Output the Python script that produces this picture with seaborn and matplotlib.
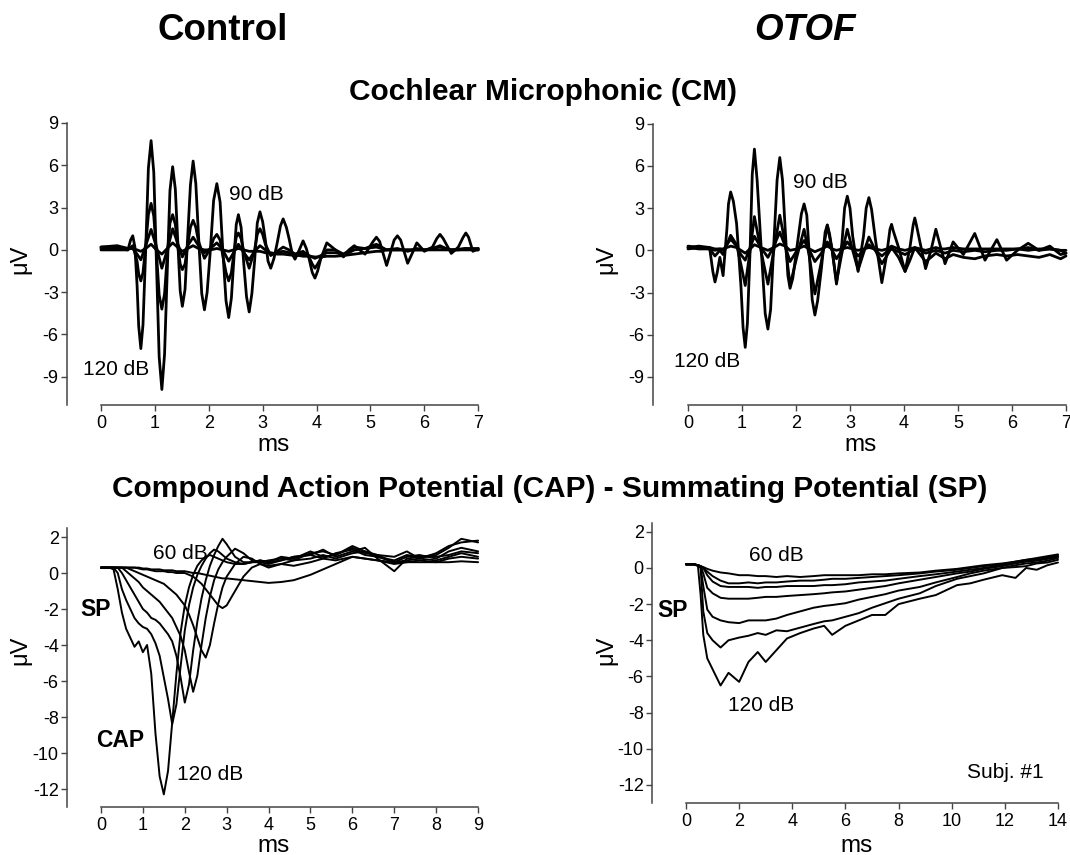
import numpy as np
import pandas as pd
import matplotlib
matplotlib.use("Agg")
import matplotlib.pyplot as plt
import seaborn as sns

# ---------------- data ----------------
levels_cm = ["120 dB", "110 dB", "100 dB", "90 dB"]
levels_cap = ["120 dB", "110 dB", "100 dB", "90 dB", "80 dB", "70 dB", "60 dB"]

# ---- Cochlear microphonic, control (time in ms, amplitude in uV) ----
t_cm_ctrl_120 = [0.0, 0.3, 0.5, 0.55, 0.59, 0.63, 0.67, 0.7, 0.74, 0.78,
                 0.83, 0.88, 0.93, 0.98, 1.03, 1.08, 1.13, 1.18, 1.23, 1.28,
                 1.33, 1.38, 1.42, 1.47, 1.51, 1.56, 1.61, 1.66, 1.71, 1.76,
                 1.81, 1.87, 1.92, 1.97, 2.03, 2.09, 2.15, 2.21, 2.26, 2.32,
                 2.37, 2.42, 2.46, 2.51, 2.55, 2.6, 2.65, 2.7, 2.75, 2.8,
                 2.85, 2.9, 2.95, 3.0, 3.05, 3.1, 3.15, 3.21, 3.27, 3.33,
                 3.38, 3.44, 3.49, 3.55, 3.6, 3.68, 3.75, 3.81, 3.86, 3.92,
                 3.97, 4.02, 4.08, 4.19, 4.35, 4.5, 4.6, 4.7, 4.9, 5.05,
                 5.11, 5.17, 5.3, 5.44, 5.5, 5.56, 5.69, 5.78, 5.86, 6.0,
                 6.15, 6.23, 6.29, 6.35, 6.5, 6.63, 6.72, 6.77, 6.82, 6.9,
                 7.0]
v_cm_ctrl_120 = [0.1, 0.1, 0.0, 0.7, 1.0, 0.2, -2.5, -5.4, -7.0, -5.3,
                 0.0, 5.8, 7.75, 5.5, -1.0, -7.6, -9.9, -7.4, -1.5, 4.2,
                 5.9, 4.3, 1.0, -2.9, -4.0, -2.8, 1.0, 4.6, 6.3, 4.7,
                 1.0, -3.1, -4.25, -3.0, 0.0, 3.5, 4.7, 3.4, 0.0, -3.6,
                 -4.8, -3.4, -1.0, 1.8, 2.5, 1.6, -1.0, -3.3, -4.4, -3.1,
                 -0.8, 1.9, 2.7, 2.0, 0.7, -0.8, -1.3, -0.6, 0.5, 1.7,
                 2.2, 1.6, 0.8, -0.3, -0.66, 0.0, 0.64, 0.1, -0.6, -1.6,
                 -2.0, -1.5, -0.6, 0.5, 0.0, -0.5, 0.0, 0.3, -0.3, 0.6,
                 0.9, 0.6, -1.1, 0.7, 1.0, 0.7, -0.95, -0.2, 0.5, -0.1,
                 0.2, 0.8, 1.1, 0.8, -0.25, 0.2, 0.9, 1.2, 0.9, -0.1,
                 0.1]
t_cm_ctrl_110 = [0.0, 0.3, 0.5, 0.59, 0.67, 0.7, 0.74, 0.78, 0.83, 0.88,
                 0.93, 0.98, 1.03, 1.08, 1.13, 1.18, 1.23, 1.28, 1.33, 1.38,
                 1.42, 1.47, 1.51, 1.56, 1.61, 1.66, 1.71, 1.76, 1.81, 1.92,
                 2.03, 2.09, 2.15, 2.21, 2.26, 2.32, 2.37, 2.42, 2.46, 2.51,
                 2.55, 2.6, 2.65, 2.75, 2.85, 2.9, 2.95, 3.0, 3.05, 3.15,
                 3.27, 3.38, 3.49, 3.6, 3.75, 3.86, 3.92, 3.97, 4.02, 4.08,
                 4.19, 4.35, 4.5, 4.7, 4.9, 5.11, 5.3, 5.5, 5.69, 5.86,
                 6.0, 6.29, 6.5, 6.77, 7.0]
v_cm_ctrl_110 = [0.0, 0.0, 0.0, 0.3, -0.8, -1.7, -2.2, -1.6, 0.3, 2.5,
                 3.3, 2.4, -0.2, -3.2, -4.2, -3.1, -0.4, 1.9, 2.5, 1.8,
                 0.4, -1.0, -1.4, -1.0, 0.4, 1.6, 2.1, 1.6, 0.6, -0.6,
                 0.1, 0.8, 1.1, 0.7, -0.4, -1.6, -2.2, -1.6, -0.4, 0.9,
                 1.2, 0.8, -0.1, -1.3, 0.0, 1.1, 1.5, 1.1, 0.4, -0.4,
                 -0.1, 0.2, 0.0, -0.3, -0.1, -0.5, -1.0, -1.3, -1.0, -0.6,
                 0.0, 0.0, -0.3, 0.2, 0.1, 0.4, 0.0, 0.1, -0.1, 0.1,
                 0.0, 0.2, 0.0, 0.1, 0.1]
t_cm_ctrl = [0.0, 0.3, 0.5, 0.59, 0.67, 0.74, 0.83, 0.93, 1.03, 1.13,
             1.23, 1.33, 1.42, 1.51, 1.61, 1.71, 1.81, 1.92, 2.03, 2.15,
             2.26, 2.37, 2.46, 2.55, 2.65, 2.75, 2.85, 2.95, 3.05, 3.15,
             3.27, 3.38, 3.49, 3.6, 3.68, 3.75, 3.86, 3.97, 4.08, 4.19,
             4.35, 4.5, 4.6, 4.7, 4.9, 5.11, 5.2, 5.3, 5.4, 5.5,
             5.6, 5.69, 5.78, 5.86, 6.0, 6.15, 6.29, 6.4, 6.5, 6.63,
             6.77, 6.9, 7.0]
v_cm_ctrl_100 = [0.2, 0.2, 0.1, 0.1, -0.3, -0.7, 0.3, 1.45, 0.2, -1.3,
                 0.0, 1.5, 0.5, -0.5, 0.3, 0.9, 0.3, -0.2, 0.1, 0.5,
                 0.0, -0.8, -0.2, 0.4, -0.2, -0.7, -0.1, 0.3, 0.0, -0.3,
                 -0.2, -0.1, -0.2, -0.3, -0.3, -0.3, -0.4, -0.6, -0.4, -0.2,
                 -0.2, -0.3, -0.2, 0.0, 0.1, 0.2, 0.1, 0.0, 0.0, 0.0,
                 0.0, 0.0, 0.0, 0.0, 0.0, 0.1, 0.3, 0.1, 0.0, 0.0,
                 0.1, 0.0, 0.0]
v_cm_ctrl_90 = [0.2, 0.3, 0.1, 0.1, 0.0, -0.1, 0.1, 0.4, 0.0, -0.3,
                0.1, 0.5, 0.2, -0.1, 0.1, 0.3, 0.1, 0.0, 0.0, 0.1,
                0.0, -0.1, 0.0, 0.1, 0.0, -0.1, -0.1, -0.1, -0.2, -0.2,
                -0.3, -0.3, -0.35, -0.4, -0.4, -0.45, -0.45, -0.5, -0.5, -0.45,
                -0.45, -0.4, -0.35, -0.3, -0.2, -0.1, -0.1, 0.0, 0.0, 0.0,
                0.0, 0.0, 0.0, 0.0, 0.0, 0.0, 0.0, 0.0, 0.0, 0.0,
                0.0, 0.0, 0.0]

# ---- Cochlear microphonic, OTOF ----
t_cm_otof_120 = [0.0, 0.2, 0.4, 0.46, 0.5, 0.54, 0.59, 0.65, 0.72, 0.75,
                 0.79, 0.84, 0.9, 0.98, 1.02, 1.06, 1.1, 1.15, 1.19, 1.23,
                 1.28, 1.35, 1.43, 1.48, 1.53, 1.59, 1.65, 1.7, 1.75, 1.8,
                 1.85, 1.89, 1.94, 2.02, 2.1, 2.15, 2.2, 2.25, 2.3, 2.35,
                 2.4, 2.47, 2.54, 2.58, 2.62, 2.67, 2.75, 2.85, 2.9, 2.95,
                 3.0, 3.05, 3.15, 3.25, 3.3, 3.35, 3.4, 3.47, 3.59, 3.68,
                 3.74, 3.77, 3.8, 3.9, 4.02, 4.11, 4.17, 4.2, 4.23, 4.3,
                 4.4, 4.5, 4.59, 4.68, 4.76, 4.91, 5.1, 5.31, 5.5, 5.72,
                 5.9, 6.1, 6.3, 6.5, 6.7, 6.9, 7.0]
v_cm_otof_120 = [0.3, 0.2, 0.2, -1.5, -2.25, -1.6, -0.5, -1.8, 1.5, 3.3,
                 4.15, 3.5, 1.9, -2.5, -5.5, -6.9, -5.2, 0.0, 5.4, 7.2,
                 5.0, 0.5, -4.5, -5.6, -4.2, 0.5, 5.0, 6.6, 5.0, 1.5,
                 -1.8, -2.7, -2.0, 0.3, 2.6, 3.3, 2.5, -0.5, -3.5, -4.6,
                 -3.6, -1.3, 1.3, 1.8, 1.2, 0.0, -2.4, 0.5, 3.0, 3.85,
                 3.0, 1.0, -1.5, 1.0, 3.0, 3.75, 2.9, 0.8, -2.3, -0.3,
                 1.5, 1.85, 1.4, 0.2, -1.5, 0.2, 1.8, 2.3, 1.8, 0.5,
                 -1.3, 0.0, 1.5, 0.2, -0.95, 0.6, -0.3, 1.2, -0.7, 0.76,
                 -0.7, 0.0, 0.5, 0.0, 0.3, -0.3, -0.2]
t_cm_otof = [0.0, 0.2, 0.4, 0.5, 0.59, 0.65, 0.72, 0.79, 0.9, 0.98,
             1.06, 1.15, 1.23, 1.35, 1.48, 1.59, 1.7, 1.8, 1.89, 2.02,
             2.15, 2.25, 2.35, 2.47, 2.58, 2.67, 2.75, 2.85, 2.95, 3.05,
             3.15, 3.25, 3.35, 3.47, 3.59, 3.68, 3.77, 3.9, 4.02, 4.11,
             4.2, 4.3, 4.4, 4.5, 4.59, 4.68, 4.76, 4.91, 5.1, 5.31,
             5.5, 5.72, 5.9, 6.1, 6.3, 6.5, 6.7, 6.9, 7.0]
v_cm_otof_110 = [0.2, 0.1, 0.1, -0.4, 0.0, -0.3, 0.4, 1.07, 0.4, -1.0,
                 -2.5, 0.0, 2.4, 0.0, -2.4, 0.0, 2.5, 0.5, -2.5, -0.4,
                 1.5, -0.5, -3.1, -0.8, 1.8, 0.0, -2.25, -0.2, 1.5, 0.0,
                 -1.4, -0.2, 0.95, 0.0, -0.95, -0.4, 0.2, -0.5, -1.5, -0.7,
                 0.2, -0.3, -0.8, -0.5, -0.2, -0.4, -0.6, -0.3, -0.5, -0.6,
                 -0.4, -0.3, -0.4, -0.3, -0.4, -0.5, -0.3, -0.6, -0.4]
v_cm_otof_100 = [0.1, 0.2, 0.1, 0.0, 0.1, 0.0, 0.4, 0.8, 0.3, -0.3,
                 -0.7, 0.2, 1.0, 0.2, -0.5, 0.3, 1.3, 0.3, -0.8, 0.0,
                 0.7, 0.0, -0.8, -0.2, 0.6, 0.0, -0.6, 0.0, 0.6, 0.1,
                 -0.4, 0.0, 0.4, 0.0, -0.4, -0.1, 0.1, -0.1, -0.3, -0.1,
                 0.1, 0.0, -0.2, -0.1, 0.0, -0.1, -0.2, 0.0, -0.1, 0.0,
                 -0.1, 0.0, 0.0, 0.1, 0.2, 0.0, 0.1, 0.0, -0.2]
v_cm_otof_90 = [0.2, 0.3, 0.2, 0.1, 0.1, 0.1, 0.2, 0.3, 0.2, 0.0,
                -0.2, 0.1, 0.4, 0.2, 0.0, 0.2, 0.45, 0.3, 0.0, 0.1,
                0.3, 0.1, -0.1, 0.1, 0.3, 0.1, 0.0, 0.1, 0.2, 0.1,
                0.0, 0.1, 0.2, 0.1, 0.0, 0.1, 0.3, 0.1, 0.0, 0.1,
                0.2, 0.1, 0.0, 0.1, 0.2, 0.1, 0.1, 0.2, 0.1, 0.1,
                0.1, 0.1, 0.1, 0.1, 0.0, 0.1, 0.1, 0.0, 0.0]

# ---- CAP / SP, control ----
t_cap_ctrl = [0.0, 0.2, 0.3, 0.4, 0.5, 0.6, 0.7, 0.8, 0.9, 1.0,
              1.1, 1.2, 1.3, 1.4, 1.5, 1.6, 1.7, 1.8, 1.9, 2.0,
              2.1, 2.2, 2.3, 2.4, 2.5, 2.6, 2.7, 2.8, 2.9, 3.0,
              3.2, 3.4, 3.6, 3.8, 4.0, 4.3, 4.6, 5.0, 5.3, 5.6,
              6.0, 6.3, 6.6, 7.0, 7.3, 7.6, 8.0, 8.3, 8.6, 9.0]
cap_ctrl_120 = [0.3, 0.3, 0.2, -0.9, -2.2, -3.1, -3.6, -4.1, -3.8, -4.4,
                -4.0, -5.6, -8.9, -11.3, -12.3, -11.0, -8.3, -5.6, -3.3, -1.8,
                -0.8, -0.1, 0.4, 0.7, 0.9, 1.0, 0.9, 0.8, 0.7, 0.6,
                0.5, 0.5, 0.6, 0.7, 0.6, 0.7, 0.9, 1.0, 0.8, 1.1,
                1.3, 1.0, 0.9, 0.7, 1.0, 0.9, 1.0, 1.4, 1.9, 1.7]
cap_ctrl_110 = [0.3, 0.3, 0.3, 0.0, -0.9, -1.5, -2.0, -2.5, -2.8, -3.0,
                -3.1, -3.4, -3.9, -4.6, -5.8, -7.0, -8.4, -7.3, -5.2, -3.2,
                -1.8, -0.8, -0.1, 0.4, 0.8, 1.1, 1.3, 1.2, 1.0, 0.8,
                0.6, 0.5, 0.6, 0.6, 0.7, 0.8, 0.7, 1.1, 1.2, 1.0,
                1.4, 1.1, 1.0, 0.9, 1.2, 0.8, 1.1, 1.5, 1.7, 1.8]
cap_ctrl_100 = [0.3, 0.3, 0.3, 0.3, 0.0, -0.4, -0.8, -1.2, -1.6, -2.0,
                -2.2, -2.5, -2.6, -2.8, -3.1, -3.4, -3.8, -4.6, -5.8, -7.2,
                -6.2, -4.3, -2.7, -1.4, -0.4, 0.4, 1.0, 1.5, 1.9, 1.6,
                0.9, 0.6, 0.6, 0.7, 0.6, 0.9, 0.8, 1.2, 0.9, 1.0,
                1.5, 1.2, 0.9, 0.6, 0.9, 1.0, 0.8, 1.2, 1.4, 1.2]
cap_ctrl_90 = [0.3, 0.3, 0.3, 0.3, 0.3, 0.1, -0.1, -0.3, -0.5, -0.8,
               -1.0, -1.2, -1.4, -1.6, -1.9, -2.2, -2.5, -3.0, -3.5, -4.3,
               -5.5, -6.6, -5.7, -4.0, -2.5, -1.3, -0.4, 0.2, 0.6, 0.9,
               1.35, 1.1, 0.7, 0.6, 0.5, 0.7, 0.9, 1.0, 1.3, 0.9,
               1.2, 1.4, 0.8, 0.1, 0.8, 0.9, 0.9, 1.0, 1.2, 1.1]
cap_ctrl_80 = [0.3, 0.3, 0.3, 0.3, 0.3, 0.3, 0.2, 0.1, 0.0, -0.1,
               -0.2, -0.3, -0.4, -0.5, -0.6, -0.8, -1.0, -1.2, -1.5, -1.8,
               -2.3, -2.9, -3.6, -4.3, -4.7, -4.0, -2.8, -1.7, -0.8, -0.2,
               0.5, 0.9, 0.8, 0.5, 0.3, 0.5, 0.7, 0.8, 1.0, 0.8,
               1.1, 1.2, 1.0, 0.6, 0.7, 0.8, 0.7, 0.9, 1.1, 0.9]
cap_ctrl_70 = [0.3, 0.3, 0.3, 0.3, 0.3, 0.3, 0.3, 0.3, 0.25, 0.2,
               0.2, 0.15, 0.1, 0.1, 0.1, 0.05, 0.05, 0.0, 0.0, 0.0,
               -0.1, -0.2, -0.4, -0.6, -0.9, -1.2, -1.5, -1.8, -1.95, -1.8,
               -1.0, -0.2, 0.3, 0.5, 0.4, 0.5, 0.4, 0.6, 0.8, 0.7,
               0.9, 0.8, 0.7, 0.5, 0.6, 0.7, 0.6, 0.8, 0.9, 0.8]
cap_ctrl_60 = [0.3, 0.3, 0.3, 0.3, 0.3, 0.3, 0.3, 0.3, 0.3, 0.25,
               0.25, 0.2, 0.2, 0.2, 0.15, 0.15, 0.15, 0.1, 0.1, 0.1,
               0.05, 0.0, 0.0, -0.05, -0.1, -0.15, -0.2, -0.25, -0.3, -0.3,
               -0.35, -0.4, -0.45, -0.5, -0.55, -0.5, -0.4, -0.1, 0.2, 0.5,
               0.9, 0.8, 0.7, 0.6, 0.6, 0.6, 0.6, 0.6, 0.65, 0.6]

# ---- CAP / SP, OTOF ----
t_cap_otof = [0.0, 0.3, 0.45, 0.55, 0.65, 0.8, 1.0, 1.3, 1.6, 2.0,
              2.35, 2.7, 3.0, 3.4, 3.8, 4.3, 4.8, 5.2, 5.5, 6.0,
              6.5, 7.0, 7.5, 8.0, 8.8, 9.4, 10.2, 10.7, 11.2, 11.9,
              12.4, 12.8, 13.2, 13.6, 14.0]
cap_otof_120 = [0.2, 0.2, 0.1, -1.5, -3.7, -5.0, -5.6, -6.5, -5.8, -6.3,
                -5.2, -4.65, -5.2, -4.55, -3.9, -3.6, -3.35, -3.2, -3.7, -3.2,
                -2.9, -2.6, -2.6, -2.0, -1.7, -1.5, -0.95, -0.85, -0.65, -0.4,
                -0.55, 0.0, -0.1, 0.15, 0.3]
cap_otof_110 = [0.2, 0.2, 0.15, 0.0, -2.4, -3.6, -4.0, -4.4, -4.0, -3.85,
                -3.75, -3.6, -3.7, -3.45, -3.5, -3.3, -3.1, -2.95, -2.9, -2.7,
                -2.5, -2.2, -1.95, -1.7, -1.4, -1.0, -0.6, -0.45, -0.3, 0.0,
                0.05, 0.1, 0.25, 0.3, 0.45]
cap_otof_100 = [0.2, 0.2, 0.15, 0.05, -1.0, -2.3, -2.7, -2.9, -3.0, -3.05,
                -2.9, -2.9, -2.9, -2.8, -2.6, -2.4, -2.2, -2.1, -2.05, -1.95,
                -1.75, -1.6, -1.45, -1.25, -1.05, -0.8, -0.5, -0.3, -0.15, 0.0,
                0.15, 0.25, 0.3, 0.4, 0.55]
cap_otof_90 = [0.2, 0.2, 0.15, 0.1, -0.3, -1.1, -1.4, -1.65, -1.7, -1.7,
               -1.7, -1.65, -1.6, -1.6, -1.55, -1.5, -1.45, -1.4, -1.35, -1.3,
               -1.2, -1.1, -1.0, -0.85, -0.65, -0.5, -0.3, -0.2, -0.05, 0.1,
               0.25, 0.35, 0.4, 0.5, 0.6]
cap_otof_80 = [0.2, 0.2, 0.15, 0.1, 0.0, -0.4, -0.75, -1.0, -1.05, -1.05,
               -1.05, -1.1, -1.05, -1.05, -1.0, -1.0, -1.0, -0.95, -0.95, -0.9,
               -0.8, -0.75, -0.7, -0.6, -0.45, -0.35, -0.2, -0.1, 0.0, 0.15,
               0.3, 0.4, 0.45, 0.55, 0.7]
cap_otof_70 = [0.2, 0.2, 0.15, 0.1, 0.0, -0.2, -0.45, -0.7, -0.85, -0.85,
               -0.8, -0.85, -0.8, -0.8, -0.75, -0.7, -0.7, -0.65, -0.6, -0.6,
               -0.55, -0.5, -0.45, -0.4, -0.3, -0.2, -0.1, 0.0, 0.1, 0.2,
               0.35, 0.45, 0.5, 0.6, 0.65]
cap_otof_60 = [0.2, 0.2, 0.15, 0.1, 0.05, -0.05, -0.15, -0.25, -0.3, -0.4,
               -0.4, -0.45, -0.45, -0.5, -0.45, -0.5, -0.45, -0.4, -0.4, -0.4,
               -0.4, -0.35, -0.35, -0.3, -0.25, -0.15, -0.05, 0.05, 0.15, 0.25,
               0.35, 0.45, 0.55, 0.65, 0.75]

xticks_cm = [0, 1, 2, 3, 4, 5, 6, 7]
yticks_cm = [-9, -6, -3, 0, 3, 6, 9]
xticks_cap_ctrl = [0, 1, 2, 3, 4, 5, 6, 7, 8, 9]
xticks_cap_otof = [0, 2, 4, 6, 8, 10, 12, 14]
yticks_cap = [-12, -10, -8, -6, -4, -2, 0, 2]


def long_df(pairs, levels):
    frames = []
    for (t, v), lev in zip(pairs, levels):
        frames.append(pd.DataFrame({"t": np.asarray(t, float),
                                    "v": np.asarray(v, float),
                                    "level": lev}))
    return pd.concat(frames, ignore_index=True)


df_cm_ctrl = long_df([(t_cm_ctrl_120, v_cm_ctrl_120), (t_cm_ctrl_110, v_cm_ctrl_110),
                      (t_cm_ctrl, v_cm_ctrl_100), (t_cm_ctrl, v_cm_ctrl_90)], levels_cm)
df_cm_otof = long_df([(t_cm_otof_120, v_cm_otof_120), (t_cm_otof, v_cm_otof_110),
                      (t_cm_otof, v_cm_otof_100), (t_cm_otof, v_cm_otof_90)], levels_cm)
df_cap_ctrl = long_df([(t_cap_ctrl, v) for v in (cap_ctrl_120, cap_ctrl_110, cap_ctrl_100,
                                                 cap_ctrl_90, cap_ctrl_80, cap_ctrl_70,
                                                 cap_ctrl_60)], levels_cap)
df_cap_otof = long_df([(t_cap_otof, v) for v in (cap_otof_120, cap_otof_110, cap_otof_100,
                                                 cap_otof_90, cap_otof_80, cap_otof_70,
                                                 cap_otof_60)], levels_cap)

# ---------------- style ----------------
sns.set_theme(style="ticks")
plt.rcParams["font.family"] = ["Liberation Sans", "DejaVu Sans"]
plt.rcParams["axes.unicode_minus"] = False
plt.rcParams["text.color"] = "black"
plt.rcParams["axes.labelcolor"] = "black"

W, H = 1070, 855
fig = plt.figure(figsize=(W / 100, H / 100), dpi=100)
fig.patch.set_facecolor("white")

AX_COL = "#444444"


def make_axes(left_px, bottom_px, xlim, xscale, ylim, yscale):
    w = (xlim[1] - xlim[0]) * xscale
    h = (ylim[1] - ylim[0]) * yscale
    ax = fig.add_axes([left_px / W, 1 - bottom_px / H, w / W, h / H])
    ax.set_xlim(*xlim)
    ax.set_ylim(*ylim)
    return ax


def style_axes(ax, xticks, yticks, ytop, labelpad):
    sns.despine(ax=ax)
    ax.set_facecolor("none")
    ax.grid(False)
    ax.set_xticks(xticks)
    ax.set_yticks(yticks)
    ax.spines["bottom"].set_bounds(xticks[0], xticks[-1])
    ax.spines["left"].set_bounds(ax.get_ylim()[0], ytop)
    for s in ("left", "bottom"):
        ax.spines[s].set_color(AX_COL)
        ax.spines[s].set_linewidth(1.1)
    ax.tick_params(axis="both", direction="out", length=4, width=1.0,
                   color=AX_COL, labelsize=13, labelcolor="black")
    ax.tick_params(axis="x", pad=3)
    ax.tick_params(axis="y", pad=2)
    ax.set_xlabel("ms", fontsize=17.5, labelpad=labelpad, color="black")
    ax.set_ylabel("")


def draw(ax, df, lw):
    sns.lineplot(data=df, x="t", y="v", units="level", estimator=None,
                 sort=False, color="black", linewidth=lw, legend=False, ax=ax)


# Top-left: CM control
ax1 = make_axes(67, 405, (-0.63, 7.05), 53.9, (-11.0, 9.2), 14.1)
draw(ax1, df_cm_ctrl, 2.0)
style_axes(ax1, xticks_cm, yticks_cm, 9, 1.5)
ax1.text(2.89, 3.9, "90 dB", fontsize=15, ha="center", va="center")
ax1.text(0.28, -8.5, "120 dB", fontsize=15, ha="center", va="center")

# Top-right: CM OTOF
ax2 = make_axes(653, 405, (-0.648, 7.05), 54.0, (-11.0, 9.2), 14.06)
draw(ax2, df_cm_otof, 2.0)
style_axes(ax2, xticks_cm, yticks_cm, 9, 1.5)
ax2.text(2.46, 4.84, "90 dB", fontsize=15, ha="center", va="center")
ax2.text(0.35, -7.9, "120 dB", fontsize=15, ha="center", va="center")

# Bottom-left: CAP/SP control
ax3 = make_axes(67, 807, (-0.811, 9.05), 41.9, (-13.0, 2.6), 18.0)
draw(ax3, df_cap_ctrl, 1.4)
style_axes(ax3, xticks_cap_ctrl, yticks_cap, 2.5, 0.8)
ax3.text(1.89, 1.1, "60 dB", fontsize=15, ha="center", va="center")
ax3.text(-0.14, -2.05, "SP", fontsize=16.5, weight="bold", ha="center", va="center")
ax3.text(0.45, -9.3, "CAP", fontsize=16.5, weight="bold", ha="center", va="center")
ax3.text(2.6, -11.2, "120 dB", fontsize=15, ha="center", va="center")

# Bottom-right: CAP/SP OTOF
ax4 = make_axes(652, 803, (-1.28, 14.1), 26.57, (-13.0, 2.6), 18.08)
draw(ax4, df_cap_otof, 1.4)
style_axes(ax4, xticks_cap_otof, yticks_cap, 2.5, 3.5)
ax4.text(3.39, 0.67, "60 dB", fontsize=15, ha="center", va="center")
ax4.text(-0.49, -2.33, "SP", fontsize=16.5, weight="bold", ha="center", va="center")
ax4.text(2.82, -7.6, "120 dB", fontsize=15, ha="center", va="center")
ax4.text(12.0, -11.3, "Subj. #1", fontsize=15, ha="center", va="center")

# y labels
for (xp, yp) in [(20, 259), (606, 259), (20, 650), (606, 650)]:
    fig.text(xp / W, 1 - yp / H, "μV", rotation=90, fontsize=17,
             ha="center", va="center", color="black")

# titles
fig.text(223 / W, 1 - 40 / H, "Control", fontsize=26.5, weight="bold",
         ha="center", va="baseline")
fig.text(805 / W, 1 - 40 / H, "OTOF", fontsize=26.5, weight="bold",
         style="italic", ha="center", va="baseline")
fig.text(543 / W, 1 - 100 / H, "Cochlear Microphonic (CM)", fontsize=21.5,
         weight="bold", ha="center", va="baseline")
fig.text(550 / W, 1 - 497 / H,
         "Compound Action Potential (CAP) - Summating Potential (SP)",
         fontsize=21.5, weight="bold", ha="center", va="baseline")

fig.savefig("out.png", dpi=100, facecolor="white")
